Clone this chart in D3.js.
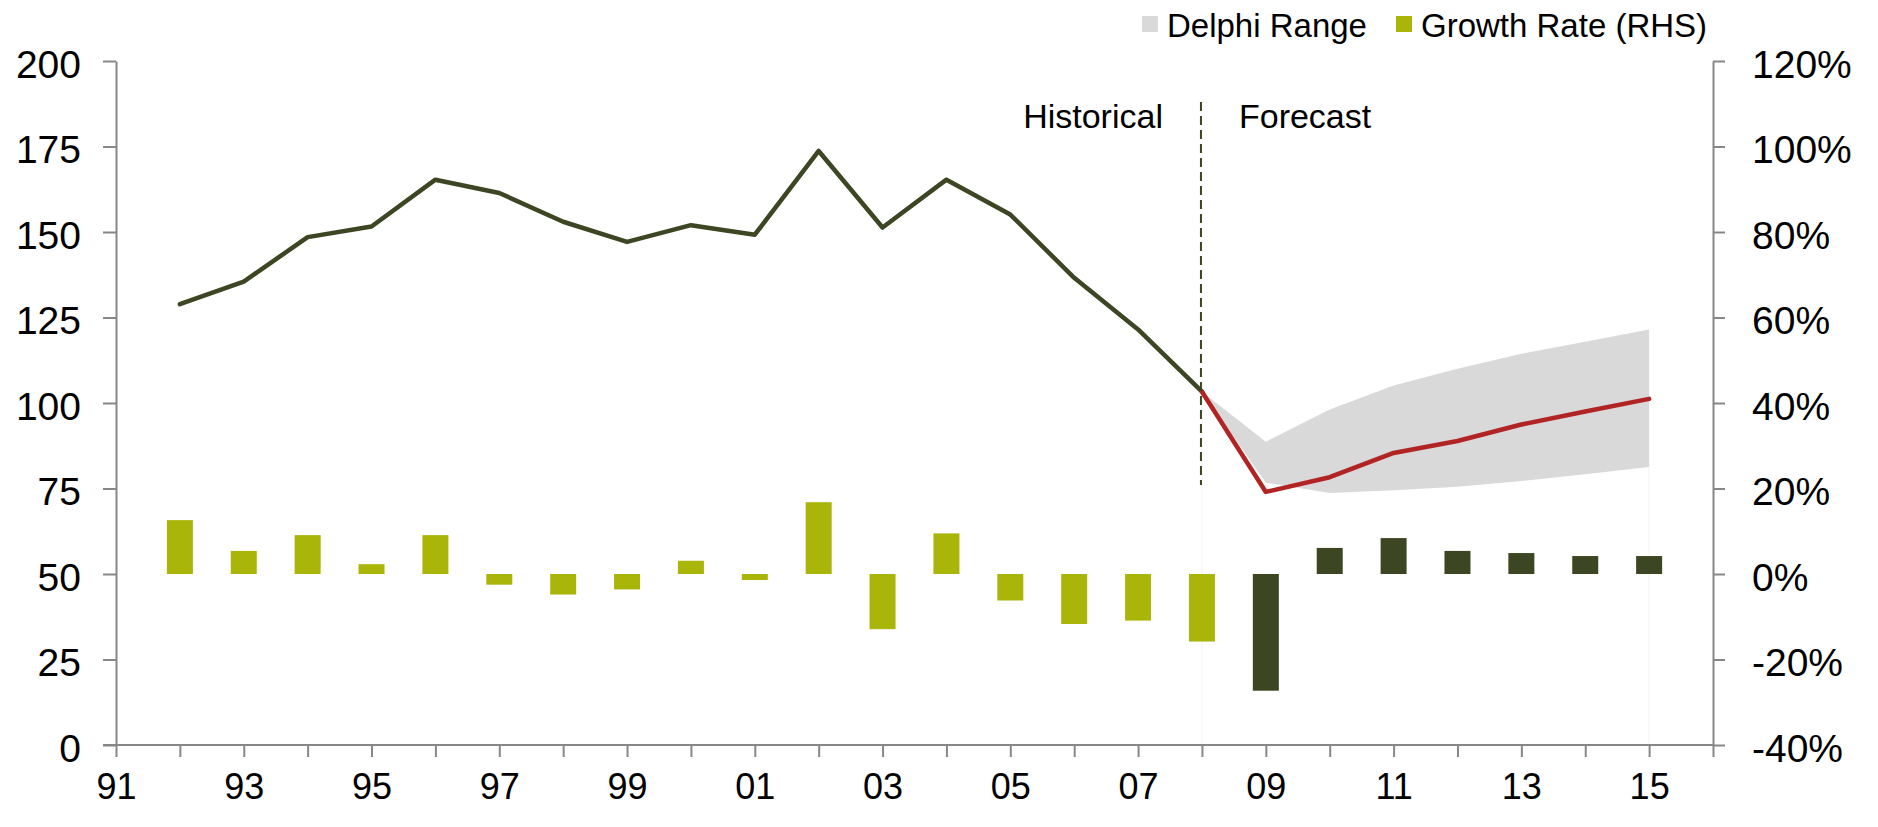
<!DOCTYPE html>
<html>
<head>
<meta charset="utf-8">
<script src="https://cdn.jsdelivr.net/npm/d3@7.9.0/dist/d3.min.js"></script>
<style>
  html, body { margin: 0; padding: 0; background: #fff; }
  svg { display: block; font-family: "Liberation Sans", Arial, sans-serif; }
  .axis path, .axis line { stroke: #878787; stroke-width: 2; }
</style>
</head>
<body>
<svg id="chart" width="1878" height="827"></svg>
<script>
// historical index (LHS)
const histYears = d3.range(1992, 2009);
const histIndex = [128.9, 135.5, 148.5, 151.6, 165.3, 161.4, 153.0, 147.1, 152.0,
                   149.2, 173.7, 151.3, 165.3, 155.1, 136.6, 121.5, 103.3];

// forecast + delphi range (LHS)
const fcYears = d3.range(2008, 2016);
const fcIndex = [103.3, 74.0, 78.3, 85.4, 88.9, 93.7, 97.5, 101.2];
const delphiHigh = [103.3, 88.7, 98.1, 105.1, 110.0, 114.4, 117.9, 121.5];
const delphiLow = [103.3, 76.7, 73.7, 74.5, 75.5, 77.2, 79.2, 81.3];

// growth rate % (RHS)
const growthYears = d3.range(1992, 2016);
const growth = [12.6, 5.4, 9.1, 2.3, 9.1, -2.5, -4.8, -3.6, 3.1, -1.4, 16.8, -12.9,
                9.5, -6.2, -11.7, -10.9, -15.8, -27.3, 6.1, 8.4, 5.4, 4.9, 4.2, 4.2];

const leftTicks = d3.range(0, 201, 25);
const rightTicks = d3.range(-40, 121, 20);
const xTicks = d3.range(1991, 2017);
const xLabelYears = d3.range(1991, 2016, 2);

const lastHist = 2008;

const svg = d3.select('#chart');
const margin = { left: 116, right: 165, top: 61, bottom: 82 };
const W = 1878, H = 827;

const x = d3.scaleLinear().domain([1991, 2016]).range([margin.left, W - margin.right]);
const yL = d3.scaleLinear().domain([0, 200]).range([H - margin.bottom, margin.top]);
const yR = d3.scaleLinear().domain([-40, 120]).range([H - margin.bottom, margin.top]);

const olive = '#3d4622', lime = '#aab50a', red = '#b22424', band = '#d9d9d9';

/*delphi range*/
const fc = fcYears.map((yr, i) => ({ yr, hi: delphiHigh[i], lo: delphiLow[i], v: fcIndex[i] }));
svg.append('path')
  .datum(fc)
  .attr('fill', band)
  .attr('d', d3.area().x(d => x(d.yr)).y0(d => yL(d.lo)).y1(d => yL(d.hi)));

// faint edges of the range down to the axis
svg.selectAll('.edge')
  .data([fc[0], fc[fc.length - 1]])
  .join('line')
  .attr('x1', d => x(d.yr)).attr('x2', d => x(d.yr))
  .attr('y1', d => yL(d.lo)).attr('y2', yL(0))
  .attr('stroke', '#f3f3f3').attr('stroke-width', 1);

/*growth bars*/
const barW = 26;
svg.selectAll('.bar')
  .data(growthYears.map((yr, i) => ({ yr, g: growth[i] })))
  .join('rect')
  .attr('x', d => x(d.yr) - barW / 2)
  .attr('width', barW)
  .attr('y', d => yR(Math.max(0, d.g)))
  .attr('height', d => Math.abs(yR(d.g) - yR(0)))
  .attr('fill', d => d.yr <= lastHist ? lime : olive);

/*lines*/
const line = d3.line().x(d => x(d.yr)).y(d => yL(d.v));
svg.append('path')
  .datum(histYears.map((yr, i) => ({ yr, v: histIndex[i] })))
  .attr('fill', 'none').attr('stroke', olive).attr('stroke-width', 4.5)
  .attr('stroke-linejoin', 'round').attr('stroke-linecap', 'round')
  .attr('d', line);

svg.append('path')
  .datum(fc)
  .attr('fill', 'none').attr('stroke', red).attr('stroke-width', 4.5)
  .attr('stroke-linejoin', 'round').attr('stroke-linecap', 'round')
  .attr('d', line);

/*historical / forecast divider*/
svg.append('line')
  .attr('x1', x(lastHist) - 1).attr('x2', x(lastHist) - 1)
  .attr('y1', yL(188)).attr('y2', yL(76))
  .attr('stroke', olive).attr('stroke-width', 2)
  .attr('stroke-dasharray', '9,5');

svg.append('text')
  .attr('x', x(lastHist) - 39).attr('y', 128)
  .attr('text-anchor', 'end').attr('font-size', 34).attr('fill', '#000')
  .text('Historical');
svg.append('text')
  .attr('x', x(lastHist) + 37).attr('y', 128)
  .attr('font-size', 34).attr('fill', '#000')
  .text('Forecast');

/*axes*/
const gL = svg.append('g').attr('class', 'axis')
  .attr('transform', `translate(${margin.left},0)`)
  .call(d3.axisLeft(yL).tickValues(leftTicks).tickSize(13).tickPadding(22).tickSizeOuter(0));
gL.selectAll('text').attr('font-size', 39).attr('fill', '#000').attr('dy', '0.41em');

const gR = svg.append('g').attr('class', 'axis')
  .attr('transform', `translate(${W - margin.right},0)`)
  .call(d3.axisRight(yR).tickValues(rightTicks).tickSize(12).tickPadding(27).tickSizeOuter(0)
    .tickFormat(d => d + '%'));
gR.selectAll('text').attr('font-size', 39).attr('fill', '#000').attr('dy', '0.41em');

const gX = svg.append('g').attr('class', 'axis')
  .attr('transform', `translate(0,${H - margin.bottom})`)
  .call(d3.axisBottom(x).tickValues(xTicks).tickSize(12).tickPadding(16).tickSizeOuter(0)
    .tickFormat(d => xLabelYears.includes(d) ? String(d % 100).padStart(2, '0') : ''));
gX.selectAll('text').attr('font-size', 36).attr('fill', '#000');
gX.select('.domain').attr('d', `M${margin.left - 13},0H${W - margin.right}`);

/*legend*/
const legendItems = [
  { label: 'Delphi Range', color: band, x: 1142 },
  { label: 'Growth Rate (RHS)', color: lime, x: 1396 }
];
const lg = svg.selectAll('.legend')
  .data(legendItems)
  .join('g')
  .attr('transform', d => `translate(${d.x},0)`);
lg.append('rect').attr('x', 0).attr('y', 16).attr('width', 16).attr('height', 16)
  .attr('fill', d => d.color);
lg.append('text').attr('x', 25).attr('y', 37).attr('font-size', 33).attr('fill', '#000')
  .text(d => d.label);
</script>
</body>
</html>
